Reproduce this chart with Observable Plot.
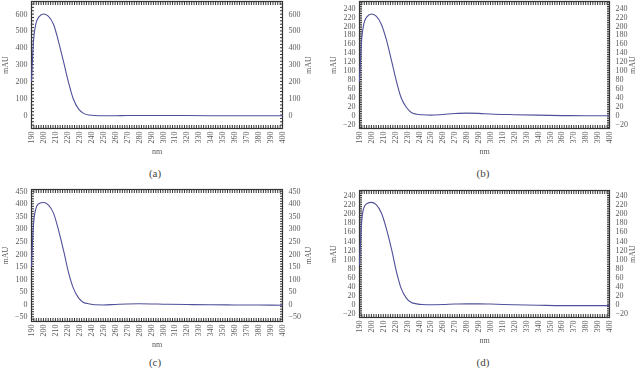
<!DOCTYPE html>
<html>
<head>
<meta charset="utf-8">
<script src="https://cdn.jsdelivr.net/npm/d3@7"></script>
<script src="https://cdn.jsdelivr.net/npm/@observablehq/plot@0.6"></script>
<style>
  body { margin: 0; background: #fff; }
  #wrap { position: relative; width: 640px; height: 368px; overflow: hidden; font-family: "Liberation Serif", serif; }
  .panel { position: absolute; will-change: transform; -webkit-font-smoothing: antialiased; }
  .cap { position: absolute; font-size: 11px; color: #444; transform: translate(-50%, -50%); font-family: "Liberation Serif", serif; }
</style>
</head>
<body>
<div id="wrap"></div>
<script>
// wavelength (nm)
const nm = [190, 191.5, 193.5, 196, 200, 204, 208.5, 212.5, 217, 221, 225, 229.5, 233.5, 238, 243, 250, 260, 270, 280, 290, 300, 320, 340, 360, 380, 400];
// absorbance (mAU) per panel
const seriesA = [200, 420, 538, 582, 601, 588, 538, 440, 311, 193, 95, 35, 10, 0, -3, -4, -4, -3, -3, -3, -3, -3, -4, -4, -4, -4];
const seriesB = [76, 158, 203, 220, 227, 222, 203, 170, 121, 76, 39, 17, 6, 2, 0.7, 0, 1.5, 3.5, 4.5, 4, 2.5, 1, 0, -1, -1.5, -1.5];
const seriesC = [150, 308, 378, 400, 405, 396, 362, 297, 210, 126, 64, 24, 7, 1.5, -2.4, -3, -1, 1, 1.5, 1, 0, -1.5, -2.5, -3, -3.5, -4];
const seriesD = [88, 172, 212, 222, 225, 220, 201, 168, 121, 73, 36, 14, 5, 2, 0.4, 0, 0.5, 1.5, 2, 2, 1.5, 0, -1, -2, -2, -2];
// tick labels
const xTicks = d3.range(190, 401, 10);
const yTicksA = d3.range(0, 601, 100);
const yTicksB = d3.range(-20, 241, 20);
const yTicksC = d3.range(-50, 451, 50);
const yTicksD = d3.range(-20, 241, 20);
const captions = ["(a)", "(b)", "(c)", "(d)"];
const xLabel = "nm";
const yLabel = "mAU";

const panels = [
  {values: seriesA, yTicks: yTicksA, yStep: 100, domain: [-80, 675], left: 0, top: 0, mt: 1, ml: 31, mr: 38, frameH: 127, mb: 30, rOff: 28, cap: [155, 173]},
  {values: seriesB, yTicks: yTicksB, yStep: 20, domain: [-30, 255], left: 320, top: 0, mt: 1, ml: 39, mr: 31, frameH: 127, mb: 30, rOff: 25, cap: [483, 173]},
  {values: seriesC, yTicks: yTicksC, yStep: 50, domain: [-69, 457], left: 0, top: 184, mt: 5, ml: 31, mr: 38, frameH: 132, mb: 28, rOff: 28, cap: [155, 362]},
  {values: seriesD, yTicks: yTicksD, yStep: 20, domain: [-28, 251], left: 320, top: 184, mt: 6, ml: 39, mr: 31, frameH: 127, mb: 30, rOff: 25, cap: [483, 362]}
];

const wrap = document.getElementById("wrap");
const textColor = "#5a5a5a";
const lineColor = "#50509a";

panels.forEach((p, i) => {
  const data = nm.map((x, k) => ({nm: x, v: p.values[k]}));
  const minorX = d3.range(190, 401, 2);
  const minorY = d3.range(Math.ceil(p.domain[0] / (p.yStep / 5)) * (p.yStep / 5), p.domain[1], p.yStep / 5);
  const chart = Plot.plot({
    width: 320,
    height: p.mt + p.frameH + p.mb,
    marginTop: p.mt,
    marginLeft: p.ml,
    marginRight: p.mr,
    marginBottom: p.mb,
    style: {fontFamily: "Liberation Serif, serif", fontSize: "8px", color: textColor, background: "#fff"},
    x: {domain: [190, 400]},
    y: {domain: p.domain},
    marks: [
      Plot.axisX({anchor: "bottom", ticks: xTicks, tickSize: 0, tickPadding: 3, tickRotate: -90, label: xLabel, labelAnchor: "center", labelArrow: "none", labelOffset: 25, fill: textColor}),
      Plot.axisX({anchor: "bottom", ticks: minorX, tickSize: -3, tickFormat: () => "", label: null, stroke: "#333"}),
      Plot.axisX({anchor: "top", ticks: minorX, tickSize: -3, tickFormat: () => "", label: null, stroke: "#333"}),
      Plot.axisY({anchor: "left", ticks: p.yTicks, tickSize: 0, tickPadding: 4, label: yLabel, labelAnchor: "center", labelArrow: "none", labelOffset: 29, fill: textColor}),
      Plot.axisY({anchor: "right", ticks: p.yTicks, tickSize: 0, tickPadding: 6, label: yLabel, labelAnchor: "center", labelArrow: "none", labelOffset: p.rOff, fill: textColor}),
      Plot.axisY({anchor: "left", ticks: minorY, tickSize: -3, tickFormat: () => "", label: null, stroke: "#333"}),
      Plot.axisY({anchor: "right", ticks: minorY, tickSize: -3, tickFormat: () => "", label: null, stroke: "#333"}),
      Plot.frame({stroke: "#333", strokeWidth: 1.2}),
      Plot.line(data, {x: "nm", y: "v", stroke: lineColor, strokeWidth: 1.1, curve: "monotone-x"})
    ]
  });
  const div = document.createElement("div");
  div.className = "panel";
  div.style.left = p.left + "px";
  div.style.top = p.top + "px";
  div.appendChild(chart);
  wrap.appendChild(div);
  const cap = document.createElement("div");
  cap.className = "cap";
  cap.style.left = p.cap[0] + "px";
  cap.style.top = p.cap[1] + "px";
  cap.textContent = captions[i];
  wrap.appendChild(cap);
});
</script>
</body>
</html>
